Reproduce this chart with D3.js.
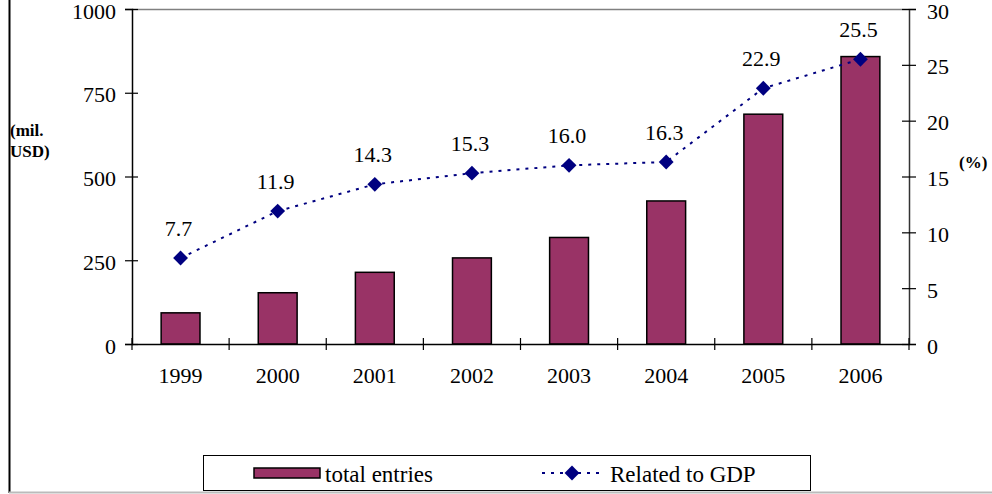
<!DOCTYPE html>
<html>
<head>
<meta charset="utf-8">
<script src="https://cdn.jsdelivr.net/npm/d3@7"></script>
<style>
  body { margin: 0; background: #fff; }
  svg text { font-family: "Liberation Serif", "Times New Roman", Tinos, "DejaVu Serif", serif; }
</style>
</head>
<body>
<div id="chart"></div>
<script>
// Data
var years = ["1999", "2000", "2001", "2002", "2003", "2004", "2005", "2006"];
var totalEntries = [93, 153, 214, 257, 318, 427, 686, 858];
var gdpShare = [7.7, 11.9, 14.3, 15.3, 16.0, 16.3, 22.9, 25.5];
var leftTicks = [0, 250, 500, 750, 1000];
var rightTicks = [0, 5, 10, 15, 20, 25, 30];

var width = 992, height = 494;
var plot = {left: 132, right: 909, top: 9, bottom: 344};
var serif = "'Liberation Serif', 'Times New Roman', Tinos, 'DejaVu Serif', serif";

var svg = d3.select("#chart")
  .append("svg")
    .attr("width", width)
    .attr("height", height)
    .attr("font-family", serif);

// Scales
var xCat = d3.scaleBand().domain(years).range([plot.left, plot.right]).padding(0);
var x = d3.scaleBand().domain(years).range([plot.left, plot.right])
    .paddingInner(0.6).paddingOuter(0.3);
var yL = d3.scaleLinear().domain([0, 1000]).range([plot.bottom, plot.top]);
var yR = d3.scaleLinear().domain([0, 30]).range([plot.bottom, plot.top]);

// outer frame bits (left edge and bottom edge of the page box)
svg.append("line")
  .attr("x1", 9.5).attr("x2", 9.5).attr("y1", 0).attr("y2", 493)
  .attr("stroke", "#000").attr("stroke-width", 2);
svg.append("line")
  .attr("x1", 9).attr("x2", width).attr("y1", 492.5).attr("y2", 492.5)
  .attr("stroke", "#bbb").attr("stroke-width", 2);

// plot area top border
svg.append("line")
  .attr("x1", plot.left).attr("x2", plot.right)
  .attr("y1", plot.top + 0.5).attr("y2", plot.top + 0.5)
  .attr("stroke", "#808080").attr("stroke-width", 1.5);

// Bars
svg.selectAll("rect.bar")
  .data(totalEntries)
  .enter()
  .append("rect")
    .attr("class", "bar")
    .attr("x", function(d, i) { return x(years[i]); })
    .attr("y", function(d) { return yL(d); })
    .attr("width", x.bandwidth())
    .attr("height", function(d) { return yL(0) - yL(d); })
    .attr("fill", "#993366")
    .attr("stroke", "#000")
    .attr("stroke-width", 1.5);

// Left axis
var leftAxis = d3.axisLeft(yL).tickValues(leftTicks).tickFormat(d3.format("d"))
    .tickSize(7).tickPadding(9);
var gL = svg.append("g")
  .attr("transform", "translate(" + plot.left + ",0)")
  .call(leftAxis);

// Right axis
var rightAxis = d3.axisRight(yR).tickValues(rightTicks).tickSize(7).tickPadding(11);
var gR = svg.append("g")
  .attr("transform", "translate(" + plot.right + ",0)")
  .call(rightAxis);

// Bottom axis (labels only, ticks drawn at category boundaries)
var bottomAxis = d3.axisBottom(xCat).tickSize(0).tickPadding(23);
var gB = svg.append("g")
  .attr("transform", "translate(0," + plot.bottom + ")")
  .call(bottomAxis);

[gL, gR, gB].forEach(function(g) {
  g.attr("font-family", serif).attr("font-size", 22);
  g.select(".domain").attr("stroke", "#000").attr("stroke-width", 1.5);
  g.selectAll(".tick line").attr("stroke", "#000").attr("stroke-width", 1.2);
  g.selectAll(".tick text").attr("fill", "#000");
});
gR.select(".domain").attr("stroke", "#333");

// value labels sit a little below their tick, as in the original
gL.selectAll(".tick text").attr("y", 2);
gR.selectAll(".tick text").attr("y", 2);

// ticks crossing the axis lines
gL.selectAll(".tick line").attr("x2", -7).attr("x1", 6);
gR.selectAll(".tick line").attr("x1", -7).attr("x2", 7);

var boundaries = years.map(function(d) { return xCat(d); }).concat([plot.right]);
svg.selectAll("line.xtick")
  .data(boundaries)
  .enter()
  .append("line")
    .attr("class", "xtick")
    .attr("x1", function(d) { return d; })
    .attr("x2", function(d) { return d; })
    .attr("y1", plot.bottom - 6)
    .attr("y2", plot.bottom + 6)
    .attr("stroke", "#000")
    .attr("stroke-width", 1.2);

// GDP line
var cx = function(i) { return x(years[i]) + x.bandwidth() / 2; };
var line = d3.line()
  .x(function(d, i) { return cx(i); })
  .y(function(d) { return yR(d); });

svg.append("path")
  .datum(gdpShare)
  .attr("d", line)
  .attr("fill", "none")
  .attr("stroke", "#000080")
  .attr("stroke-width", 2)
  .attr("stroke-dasharray", "3,6");

var diamond = d3.symbol().type(d3.symbolSquare).size(110);
svg.selectAll("path.marker")
  .data(gdpShare)
  .enter()
  .append("path")
    .attr("class", "marker")
    .attr("d", diamond)
    .attr("transform", function(d, i) {
      return "translate(" + cx(i) + "," + yR(d) + ") rotate(45)";
    })
    .attr("fill", "#000080");

// data labels
svg.selectAll("text.lbl")
  .data(gdpShare)
  .enter()
  .append("text")
    .attr("class", "lbl")
    .attr("x", function(d, i) { return cx(i) - 2; })
    .attr("y", function(d) { return yR(d) - 22; })
    .attr("text-anchor", "middle")
    .attr("font-size", 22)
    .text(function(d) { return d.toFixed(1); });

// axis titles
svg.append("text")
  .attr("x", 10).attr("y", 136)
  .attr("font-size", 17).attr("font-weight", "bold")
  .text("(mil.");
svg.append("text")
  .attr("x", 10).attr("y", 157)
  .attr("font-size", 17).attr("font-weight", "bold")
  .text("USD)");
svg.append("text")
  .attr("x", 959).attr("y", 168)
  .attr("font-size", 17).attr("font-weight", "bold")
  .text("(%)");

// Legend
var legend = svg.append("g");
legend.append("rect")
  .attr("x", 203.5).attr("y", 455.5)
  .attr("width", 607).attr("height", 35)
  .attr("fill", "#fff")
  .attr("stroke", "#000").attr("stroke-width", 1);
legend.append("rect")
  .attr("x", 254).attr("y", 468)
  .attr("width", 66).attr("height", 10)
  .attr("fill", "#993366")
  .attr("stroke", "#000").attr("stroke-width", 1.5);
legend.append("text")
  .attr("x", 325).attr("y", 482)
  .attr("font-size", 23)
  .text("total entries");
legend.append("line")
  .attr("x1", 542).attr("x2", 604)
  .attr("y1", 473).attr("y2", 473)
  .attr("stroke", "#000080").attr("stroke-width", 2)
  .attr("stroke-dasharray", "3,6");
legend.append("path")
  .attr("d", diamond)
  .attr("transform", "translate(572,473) rotate(45)")
  .attr("fill", "#000080");
legend.append("text")
  .attr("x", 610).attr("y", 482)
  .attr("font-size", 23)
  .text("Related to GDP");
</script>
</body>
</html>
